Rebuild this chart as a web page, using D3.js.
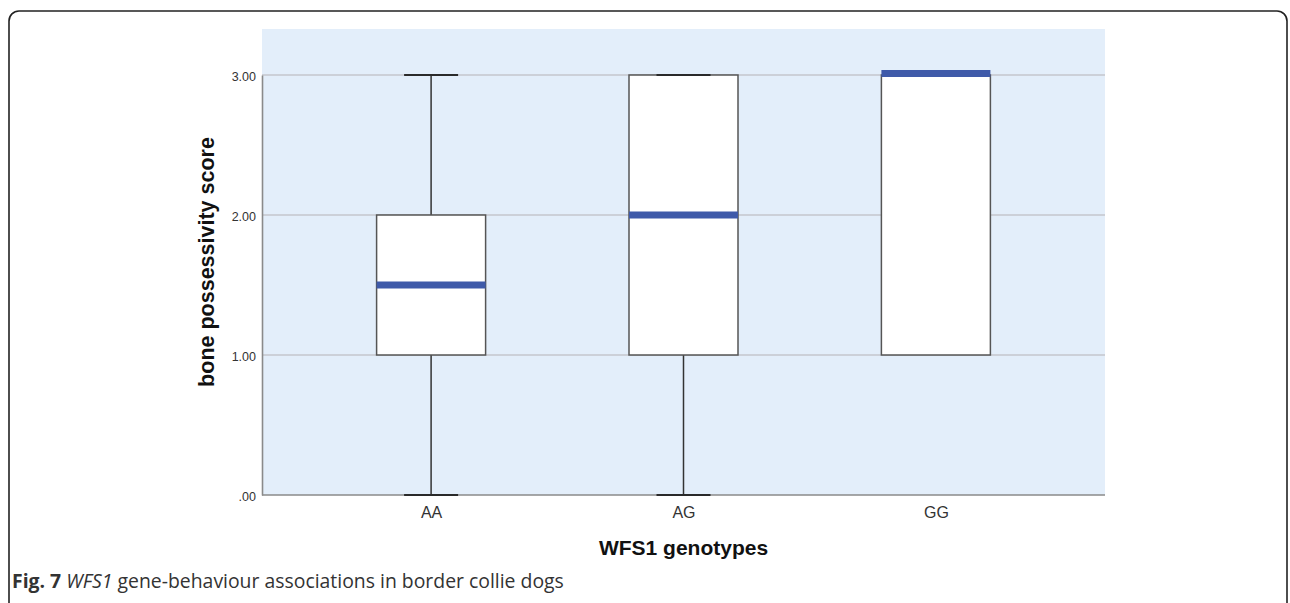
<!DOCTYPE html>
<html><head><meta charset="utf-8">
<script src="https://cdn.jsdelivr.net/npm/d3@7"></script>
<style>body{margin:0;background:#fff}svg{display:block}</style>
</head><body>
<script>
const categories = ["AA", "AG", "GG"];
const mins    = [0, 0, 1];
const q1s     = [1, 1, 1];
const medians = [1.5, 2, 3];
const q3s     = [2, 3, 3];
const maxs    = [3, 3, 3];
const yTicks  = [0, 1, 2, 3];
const yTickLabels = [".00", "1.00", "2.00", "3.00"];

const W = 1290, H = 603;
const svg = d3.select("body").append("svg").attr("width", W).attr("height", H);

// outer frame
svg.append("rect").attr("x", 9).attr("y", 11).attr("width", 1278).attr("height", 700)
  .attr("rx", 10).attr("fill", "none").attr("stroke", "#222").attr("stroke-width", 1.6);

const L = 262, R = 1105, T = 29, B = 495;
const y = d3.scaleLinear().domain([0, 3]).range([B, 75]);
const x = d3.scalePoint().domain(categories).range([L, R]).padding(0.67);

svg.append("rect").attr("x", L).attr("y", T).attr("width", R - L).attr("height", B - T).attr("fill", "#e3eefa");

// gridlines
svg.append("g").selectAll("line").data(yTicks.filter(d => d > 0)).join("line")
  .attr("x1", L).attr("x2", R).attr("y1", d => y(d)).attr("y2", d => y(d))
  .attr("stroke", "#c4c6cc").attr("stroke-width", 1.3);

// axes
const yAxis = d3.axisLeft(y).tickValues(yTicks).tickFormat((d, i) => yTickLabels[i]).tickSize(0).tickPadding(6);
const gy = svg.append("g").attr("transform", `translate(${L},0)`).call(yAxis);
gy.select(".domain").attr("stroke", "#8a8a8a").attr("stroke-width", 1.6);
gy.selectAll("text").attr("font-family", "Liberation Sans, Arial, sans-serif").attr("font-size", 12.5).attr("fill", "#333").attr("dy", "0.45em");

const xAxis = d3.axisBottom(x).tickSize(0).tickPadding(12);
const gx = svg.append("g").attr("transform", `translate(0,${B})`).call(xAxis);
gx.select(".domain").attr("stroke", "#8a8a8a").attr("stroke-width", 1.6).attr("d", `M${L},0H${R}`);
gx.selectAll("text").attr("font-family", "Liberation Sans, Arial, sans-serif").attr("font-size", 16).attr("fill", "#333");

// boxes
const bw = 109, cw = 54;
const data = categories.map((c, i) => ({c, min: mins[i], q1: q1s[i], med: medians[i], q3: q3s[i], max: maxs[i]}));
const g = svg.append("g");
data.forEach(d => {
  const cx = x(d.c);
  if (d.max > d.q3) g.append("line").attr("x1", cx).attr("x2", cx).attr("y1", y(d.q3)).attr("y2", y(d.max)).attr("stroke", "#333").attr("stroke-width", 1.5);
  if (d.min < d.q1) g.append("line").attr("x1", cx).attr("x2", cx).attr("y1", y(d.q1)).attr("y2", y(d.min)).attr("stroke", "#333").attr("stroke-width", 1.5);
  g.append("rect").attr("x", cx - bw / 2).attr("y", y(d.q3)).attr("width", bw).attr("height", y(d.q1) - y(d.q3))
    .attr("fill", "#fff").attr("stroke", "#555").attr("stroke-width", 1.5);
  [d.min, d.max].forEach(v => {
    if (d.c !== "GG") g.append("line").attr("x1", cx - cw / 2).attr("x2", cx + cw / 2).attr("y1", y(v)).attr("y2", y(v)).attr("stroke", "#2a2a2a").attr("stroke-width", 2);
  });
  g.append("line").attr("x1", cx - bw / 2).attr("x2", cx + bw / 2)
    .attr("y1", y(d.med) - (d.med === d.q3 ? 1.5 : 0)).attr("y2", y(d.med) - (d.med === d.q3 ? 1.5 : 0))
    .attr("stroke", "#3f5aa9").attr("stroke-width", 7);
});

// axis titles
svg.append("text").attr("transform", `translate(214,${(B + T) / 2}) rotate(-90)`).attr("text-anchor", "middle")
  .attr("font-family", "Liberation Sans, Arial, sans-serif").attr("font-weight", "bold").attr("font-size", 21.5).attr("fill", "#111")
  .text("bone possessivity score");
svg.append("text").attr("x", (L + R) / 2).attr("y", 555).attr("text-anchor", "middle")
  .attr("font-family", "Liberation Sans, Arial, sans-serif").attr("font-weight", "bold").attr("font-size", 21).attr("fill", "#111")
  .text("WFS1 genotypes");

// caption
const cap = svg.append("text").attr("x", 12).attr("y", 588).attr("font-family", "Open Sans, sans-serif").attr("font-size", 19.4).attr("fill", "#333");
cap.append("tspan").attr("font-weight", "bold").text("Fig. 7");
cap.append("tspan").text(" ");
cap.append("tspan").attr("font-style", "italic").text("WFS1");
cap.append("tspan").text(" gene-behaviour associations in border collie dogs");
</script>
</body></html>
